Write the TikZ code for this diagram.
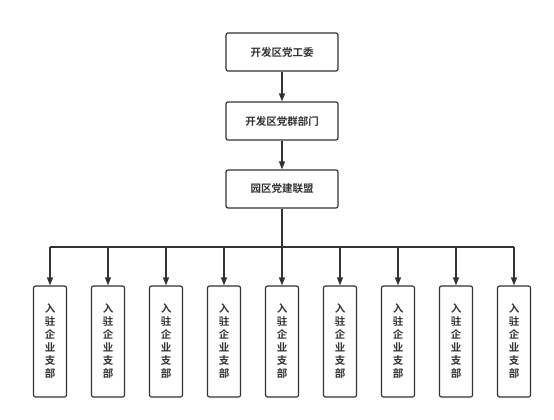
\documentclass[tikz,border=0pt]{standalone}
\usepackage{fontspec}
\newfontfamily\cjk{Noto Sans CJK SC}[BoldFont={Noto Sans CJK SC Bold}]
\usetikzlibrary{arrows.meta}
\definecolor{ln}{HTML}{333333}
\begin{document}
\begin{tikzpicture}[x=1pt,y=-1pt,
  topbox/.style={draw=ln,line width=1.2pt,rounded corners=2pt,minimum width=112pt,minimum height=38pt,inner sep=0pt,font=\cjk\bfseries\fontsize{10.5}{12}\selectfont,text=ln},
  subbox/.style={draw=ln,line width=1.2pt,rounded corners=2pt,minimum width=33pt,minimum height=111pt,inner sep=0pt,font=\cjk\bfseries\fontsize{10.5}{13}\selectfont,text=ln,align=center},
  conn/.style={draw=ln,line width=1.2pt},
  arr/.style={conn,-{Triangle[length=8pt,width=6pt]}}]
\useasboundingbox (0,0) rectangle (554,420);
\node[topbox] (a) at (282,52) {开发区党工委};
\node[topbox] (b) at (282,121) {开发区党群部门};
\node[topbox] (c) at (282,189) {园区党建联盟};
\draw[arr] (a) -- (b);
\draw[arr] (b) -- (c);
\coordinate (j) at (282,247);
\draw[conn] (c) -- (j);
\foreach \i in {0,...,8} {
  \node[subbox] (s\i) at (50+58*\i,341.5) {入\\驻\\企\\业\\支\\部};
  \coordinate (t\i) at (50+58*\i,247);
}
\draw[conn] (t0) -- (t8);
\foreach \i in {0,...,8} {
  \draw[arr] (t\i) -- (s\i);
}
\end{tikzpicture}
\end{document}
